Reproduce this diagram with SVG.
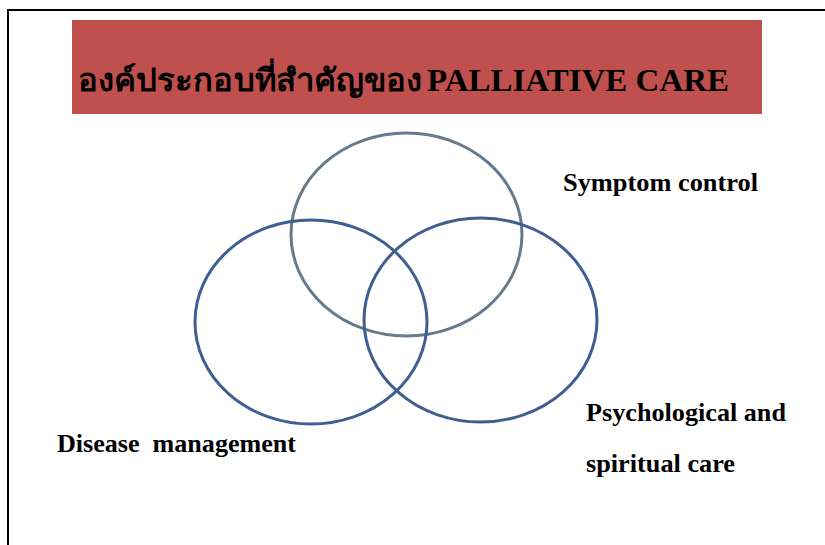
<svg xmlns="http://www.w3.org/2000/svg" width="825" height="545" viewBox="0 0 825 545">
  <style>
    .frame { fill: none; stroke: #000; stroke-width: 2; }
    .banner { fill: #C0504D; }
    .title { font-family: "Liberation Serif", "Times New Roman", serif; font-weight: bold; font-size: 31px; fill: #000; }
    .ring { fill: none; stroke-width: 3; }
    .ring-top { stroke: #667A8C; }
    .ring-low { stroke: #3E5F92; }
    .label { font-family: "Liberation Serif", "Times New Roman", serif; font-weight: bold; font-size: 25px; fill: #000; }
  </style>

  <rect width="825" height="545" fill="#fff"/>
  <!-- slide frame: top and left edges -->
  <path class="frame" d="M8 545 V10 H825"/>

  <!-- title banner -->
  <g id="title">
    <rect class="banner" x="72" y="20" width="690" height="94"/>
    <text class="title" x="78" y="91" textLength="344" lengthAdjust="spacingAndGlyphs">องค์ประกอบที่สำคัญของ</text>
    <text class="title" x="427" y="91" font-size="32" textLength="302" lengthAdjust="spacingAndGlyphs">PALLIATIVE CARE</text>
  </g>

  <!-- Venn rings -->
  <g id="symptom-control">
    <ellipse class="ring ring-top" cx="406.5" cy="234.5" rx="115.5" ry="101.5"/>
    <text class="label" x="563" y="191" textLength="195" lengthAdjust="spacingAndGlyphs">Symptom control</text>
  </g>
  <g id="disease-management">
    <ellipse class="ring ring-low" cx="311" cy="322" rx="116" ry="102"/>
    <text class="label" x="57" y="452" textLength="239" lengthAdjust="spacingAndGlyphs" xml:space="preserve">Disease  management</text>
  </g>
  <g id="psychological-spiritual-care">
    <ellipse class="ring ring-low" cx="480.5" cy="320" rx="116.5" ry="102"/>
    <text class="label" x="586" y="421" textLength="200" lengthAdjust="spacingAndGlyphs">Psychological and</text>
    <text class="label" x="586" y="472" textLength="149" lengthAdjust="spacingAndGlyphs">spiritual care</text>
  </g>
</svg>
